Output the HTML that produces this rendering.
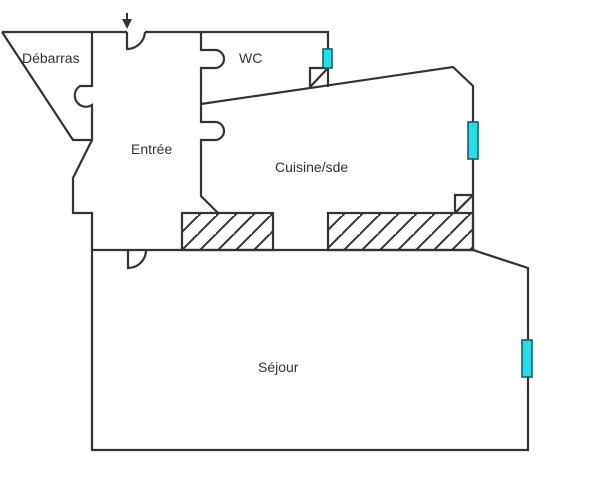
<!DOCTYPE html>
<html><head><meta charset="utf-8"><style>
html,body{margin:0;padding:0;background:#fff;}
svg{display:block}
text{font-family:"Liberation Sans",sans-serif;font-size:14px;fill:#333;}
</style></head><body>
<svg width="602" height="487" viewBox="0 0 602 487" xmlns="http://www.w3.org/2000/svg">
<defs>
<pattern id="h" patternUnits="userSpaceOnUse" width="18" height="18">
<path d="M-2,20 L20,-2 M-20,20 L2,-2 M16,38 L38,16" stroke="#333" stroke-width="2"/>
</pattern>
</defs>
<g fill="none" stroke="#333" stroke-width="2.2" stroke-linejoin="miter">
<rect x="182" y="213" width="91" height="37" fill="url(#h)"/>
<rect x="328" y="213" width="145" height="37" fill="url(#h)"/>
<path d="M2,32 H127 M145,32 H328 V87"/>
<path d="M2,32 L73,140 H92"/>
<path d="M92,32 V86 H80 A10 10 0 0 0 92,105 V140 L73,178 V213 H92 V450 H528 V268 L473,250 H92"/>
<path d="M127,32 V49 A18 18 0 0 0 145,32"/>
<path d="M128,250 V268 A18 18 0 0 0 146,250"/>
<path d="M201,32 V50 H215 A9 9 0 0 1 215,68 H201 V122 H215 A9 9 0 0 1 215,140 H201 V196 L218,213"/>
<path d="M201,104 L453,67 L473,86 V250"/>
<path d="M310,87 V68 H328 M310,87 L328,68"/>
<path d="M455,213 V195 H473 M455,213 L473,195"/>
</g>
<g fill="#22e0e8" stroke="#1e5a5f" stroke-width="1.6">
<rect x="323" y="49" width="9" height="19"/>
<rect x="468" y="122" width="10" height="37"/>
<rect x="522" y="340" width="10" height="37"/>
</g>
<path d="M127,13 V22" stroke="#333" stroke-width="2"/>
<path d="M122,19 H132 L127,29 Z" fill="#333"/>
<text x="22" y="63">Débarras</text>
<text x="239" y="63">WC</text>
<text x="131" y="154">Entrée</text>
<text x="275" y="172">Cuisine/sde</text>
<text x="258" y="372">Séjour</text>
</svg>
</body></html>
